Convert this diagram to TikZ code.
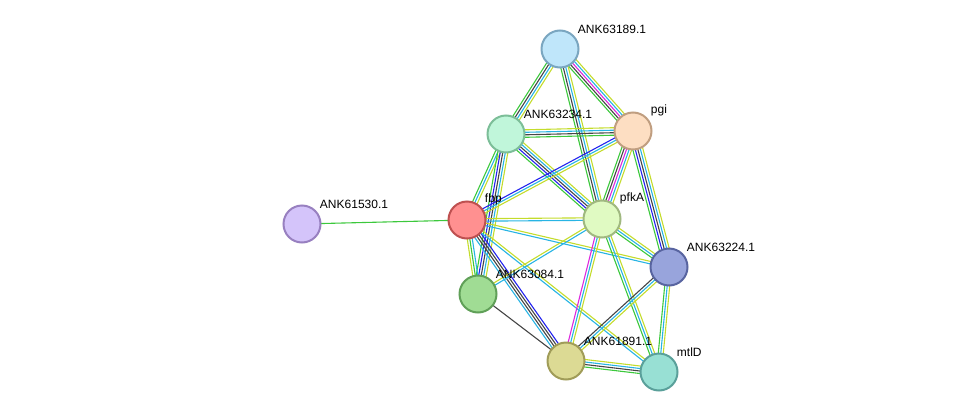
\documentclass[tikz,border=0pt]{standalone}
\usepackage{fontspec}
\setmainfont{Liberation Sans}
\usetikzlibrary{calc,backgrounds}

\definecolor{sgreen}{HTML}{3CC83C}
\definecolor{sblack}{HTML}{454545}
\definecolor{sblue}{HTML}{2323EE}
\definecolor{scyan}{HTML}{28B4E4}
\definecolor{syellow}{HTML}{C4DC2C}
\definecolor{smagenta}{HTML}{DD28DD}

% bundle of parallel lines between two nodes
\newcommand{\stringedge}[4]{%
  \foreach \col [count=\k] in {#4} {
    \pgfmathsetmacro{\off}{(\k-(#3+1)/2)*2.5}
    \draw[\col, line width=1.1pt] ($(#1)!\off pt!90:(#2)$) -- ($(#2)!\off pt!-90:(#1)$);
  }%
}

\begin{document}
\begin{tikzpicture}[x=1pt, y=-1pt,
  prot/.style={circle, draw, line width=2pt, minimum size=37pt, inner sep=0pt},
  lbl/.style={font=\fontsize{12}{14}\selectfont, inner sep=1pt, label distance=0pt, xshift=3pt}]
\useasboundingbox (0,0) rectangle (975,418);
\node[prot, fill={rgb,255:red,191;green,230;blue,250}, draw={rgb,255:red,122;green,166;blue,192},
  label={[lbl]north east:ANK63189.1}] (p63189) at (560,49) {};
\node[prot, fill={rgb,255:red,192;green,246;blue,218}, draw={rgb,255:red,124;green,190;blue,152},
  label={[lbl]north east:ANK63234.1}] (p63234) at (506,134) {};
\node[prot, fill={rgb,255:red,253;green,222;blue,194}, draw={rgb,255:red,192;green,158;blue,128},
  label={[lbl]north east:pgi}] (pgi) at (633,131) {};
\node[prot, fill={rgb,255:red,255;green,144;blue,144}, draw={rgb,255:red,190;green,80;blue,80},
  label={[lbl]north east:fbp}] (fbp) at (467,220) {};
\node[prot, fill={rgb,255:red,224;green,250;blue,194}, draw={rgb,255:red,160;green,184;blue,128},
  label={[lbl]north east:pfkA}] (pfkA) at (602,219) {};
\node[prot, fill={rgb,255:red,152;green,164;blue,220}, draw={rgb,255:red,88;green,100;blue,160},
  label={[lbl]north east:ANK63224.1}] (p63224) at (669,267) {};
\node[prot, fill={rgb,255:red,160;green,220;blue,148}, draw={rgb,255:red,96;green,160;blue,88},
  label={[lbl]north east:ANK63084.1}] (p63084) at (478,294) {};
\node[prot, fill={rgb,255:red,220;green,218;blue,148}, draw={rgb,255:red,160;green,156;blue,88},
  label={[lbl]north east:ANK61891.1}] (p61891) at (566,361) {};
\node[prot, fill={rgb,255:red,152;green,224;blue,212}, draw={rgb,255:red,90;green,160;blue,154},
  label={[lbl]north east:mtlD}] (mtlD) at (659,372) {};
\node[prot, fill={rgb,255:red,212;green,196;blue,250}, draw={rgb,255:red,152;green,128;blue,192},
  label={[lbl]north east:ANK61530.1}] (p61530) at (302,224) {};

\begin{pgfonlayer}{background}
\stringedge{p63189}{p63234}{4}{sgreen,sblack,scyan,syellow}
\stringedge{p63189}{pgi}{5}{sgreen,sblack,smagenta,scyan,syellow}
\stringedge{p63189}{pfkA}{4}{sgreen,sblack,scyan,syellow}
\stringedge{p63234}{pgi}{4}{sgreen,sblack,scyan,syellow}
\stringedge{p63234}{pfkA}{5}{sgreen,sblue,sblack,scyan,syellow}
\stringedge{p63234}{fbp}{3}{sgreen,scyan,syellow}
\stringedge{p63234}{p63084}{5}{sgreen,sblue,sblack,scyan,syellow}
\stringedge{pgi}{fbp}{3}{sblue,scyan,syellow}
\stringedge{pgi}{pfkA}{5}{sgreen,sblack,smagenta,scyan,syellow}
\stringedge{pgi}{p63224}{5}{sgreen,sblue,sblack,scyan,syellow}
\stringedge{fbp}{pfkA}{2}{scyan,syellow}
\stringedge{fbp}{p63224}{2}{scyan,syellow}
\stringedge{fbp}{p63084}{3}{syellow,sgreen,scyan}
\stringedge{fbp}{p61891}{4}{scyan,sblack,sblack,sblue}
\stringedge{fbp}{mtlD}{2}{scyan,syellow}
\stringedge{fbp}{p61530}{1}{sgreen}
\stringedge{pfkA}{p63084}{2}{syellow,scyan}
\stringedge{pfkA}{p63224}{3}{sgreen,scyan,syellow}
\stringedge{pfkA}{p61891}{3}{smagenta,scyan,syellow}
\stringedge{pfkA}{mtlD}{3}{sgreen,scyan,syellow}
\stringedge{p63224}{p61891}{3}{sblack,scyan,syellow}
\stringedge{p63224}{mtlD}{3}{sgreen,scyan,syellow}
\stringedge{p63084}{p61891}{1}{sblack}
\stringedge{p61891}{mtlD}{4}{sgreen,sblack,scyan,syellow}
\end{pgfonlayer}
\end{tikzpicture}
\end{document}
